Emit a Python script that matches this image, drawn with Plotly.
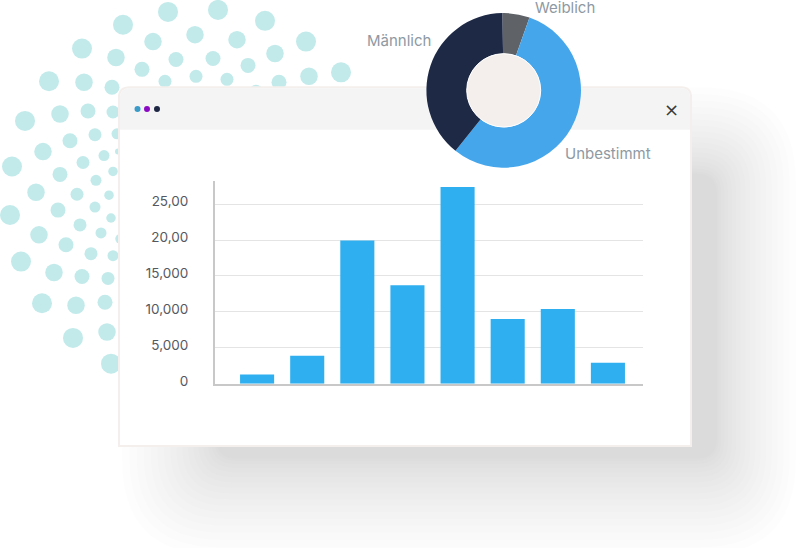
import plotly.graph_objects as go

W, H = 805, 553

# bar chart values
bar_slots = [0, 1, 2, 3, 4, 5, 6, 7]
bar_values = [1285, 3900, 19930, 13715, 27390, 9020, 10400, 2940]
tick_vals = [0, 5000, 10000, 15000, 20000, 25000]
tick_text = ['0', '5,000', '10,000', '15,000', '20,00', '25,00']

# donut
pie_labels = ['Weiblich', 'Unbestimmt', 'Männlich']
pie_values = [5.7, 55.3, 39.0]
pie_colors = ['#5f6368', '#45a6ec', '#1e2946']

# decorative dot fan behind the window
dot_x = [168, 218, 265, 306, 341, 123, 82, 49, 25, 12, 10, 21, 42, 73, 111,
         195, 237, 275, 309, 153, 116, 84, 60, 43, 36, 39, 54, 76, 107,
         176, 213, 248, 279, 142, 112, 88, 70, 60, 58, 66, 82, 105,
         165, 196, 227, 256, 113, 95, 83, 77, 80, 91, 108,
         117, 104, 96, 95, 101, 113,
         113, 109, 111, 120, 118]
dot_y = [12, 10, 21, 42, 73, 25, 49, 82, 122, 168, 217, 264, 306, 341, 367,
         35, 40, 54, 77, 42, 58, 83, 115, 153, 194, 237, 275, 308, 335,
         60, 59, 66, 83, 70, 88, 112, 142, 176, 212, 247, 279, 305,
         82, 77, 80, 92, 113, 136, 164, 196, 227, 256, 281,
         135, 157, 182, 209, 235, 258,
         173, 197, 220, 241, 153]
dot_size = [20] * 15 + [17.5] * 14 + [15] * 13 + [13] * 11 + [11] * 6 + [9.5] * 4 + [6]


def rounded(x0, y0, x1, y1, r):
    return (f'M{x0 + r},{y0} L{x1 - r},{y0} Q{x1},{y0} {x1},{y0 + r} L{x1},{y1 - r} Q{x1},{y1} {x1 - r},{y1} '
            f'L{x0 + r},{y1} Q{x0},{y1} {x0},{y1 - r} L{x0},{y0 + r} Q{x0},{y0} {x0 + r},{y0} Z')


fig = go.Figure()

fig.add_trace(go.Scatter(x=dot_x, y=dot_y, mode='markers', hoverinfo='skip', xaxis='x', yaxis='y',
                         marker=dict(size=dot_size, color='#c2eaea', opacity=1, line_width=0)))

# window shadow, stacked soft layers, packed tighter near the core
shapes = []
steps = 18
for i in range(steps):
    t = i / (steps - 1)
    k = 1 - (1 - t) ** 1.35
    shapes.append(dict(type='path', xref='x2', yref='y2', layer='below', line_width=0,
                       fillcolor='black', opacity=0.0078,
                       path=rounded(122 + 94 * k, 88 + 87 * k, 796 - 79 * k, 560 - 97 * k, 95 - 75 * k)))

# window body
shapes.append(dict(type='path', xref='x2', yref='y2', layer='below', fillcolor='white',
                   line=dict(color='#f4efec', width=2),
                   path='M130,88 L681,88 Q691,88 691,98 L691,450 L119,450 L119,98 Q119,88 130,88 Z'))
shapes.append(dict(type='path', xref='x2', yref='y2', layer='below', fillcolor='#f4f4f4', line_width=0,
                   path='M130,89 L681,89 Q690,89 690,98 L690,131 L120,131 L120,98 Q120,89 130,89 Z'))
for cx, col in [(137.5, '#3a9bc9'), (147, '#8a0ac4'), (157, '#1d2744')]:
    shapes.append(dict(type='circle', xref='x2', yref='y2', layer='below', fillcolor=col, line_width=0,
                       x0=cx - 3, x1=cx + 3, y0=107, y1=113))

# donut hole
shapes.append(dict(type='circle', xref='paper', yref='paper', layer='above', fillcolor='#f4efec',
                   line=dict(color='white', width=1),
                   x0=(503.7 - 37) / W, x1=(503.7 + 37) / W, y0=1 - (91.2 + 37) / H, y1=1 - (91.2 - 37) / H))

fig.add_trace(go.Bar(x=bar_slots, y=bar_values, width=0.68, marker=dict(color='#2fafef', line_width=0),
                     xaxis='x3', yaxis='y3', hoverinfo='skip'))

fig.add_trace(go.Pie(labels=pie_labels, values=pie_values, hole=0.477, sort=False, direction='clockwise',
                     rotation=-1, textinfo='none', hoverinfo='skip', showlegend=False,
                     marker=dict(colors=pie_colors, line_width=0),
                     domain=dict(x=[425.7 / W, 581.7 / W], y=[1 - 169.2 / H, 1 - 13.2 / H])))

page_axis = dict(visible=False, fixedrange=True)
label_font = dict(family='Inter', size=15, color='#8e99a3')
annotations = [
    dict(text='Männlich', x=398.5 / W, y=1 - 41 / H),
    dict(text='Weiblich', x=565 / W, y=1 - 8 / H),
    dict(text='Unbestimmt', x=607.5 / W, y=1 - 155 / H),
]
for a in annotations:
    a.update(xref='paper', yref='paper', showarrow=False, font=label_font, xanchor='center', yanchor='middle')
annotations.append(dict(text='×', x=671 / W, y=1 - 110 / H, xref='paper', yref='paper', showarrow=False,
                        xanchor='center', yanchor='middle',
                        font=dict(family='DejaVu Sans', size=18, color='#3a3a3a')))

fig.update_layout(
    width=W, height=H, autosize=False,
    margin=dict(l=0, r=0, t=0, b=0),
    paper_bgcolor='white', plot_bgcolor='rgba(0,0,0,0)',
    showlegend=False,
    shapes=shapes, annotations=annotations,
    xaxis=dict(range=[0, W], domain=[0, 1], anchor='y', **page_axis),
    yaxis=dict(range=[H, 0], domain=[0, 1], anchor='x', **page_axis),
    xaxis2=dict(range=[0, W], domain=[0, 1], anchor='y2', **page_axis),
    yaxis2=dict(range=[H, 0], domain=[0, 1], anchor='x2', **page_axis),
    xaxis3=dict(range=[-0.84, 7.7], domain=[215 / W, 643 / W], anchor='y3', showgrid=False, zeroline=False,
                showticklabels=False, ticks='', fixedrange=True, showline=True, linecolor='#c8c8c8', linewidth=2),
    yaxis3=dict(range=[0, 28170], domain=[1 - 387.3 / H, 1 - 183 / H], anchor='x3', tickvals=tick_vals,
                ticktext=tick_text, ticks='', showgrid=True, gridcolor='#e4e4e4', gridwidth=1, zeroline=False,
                fixedrange=True, showline=True, linecolor='#c8c8c8', linewidth=2,
                ticklabelstandoff=22, ticklabelshift=-3,
                tickfont=dict(family='Inter', size=13.5, color='#55595f')),
)

# page must be exactly the figure size, no body margin or stray scroll height
fig.write_html("out.html", config=dict(displayModeBar=False),
               post_script="document.documentElement.style.overflow = 'hidden';"
                           "document.documentElement.style.height = '553px';"
                           "document.body.style.margin = '0';"
                           "document.body.style.height = '553px';"
                           "document.body.style.overflow = 'hidden';")
